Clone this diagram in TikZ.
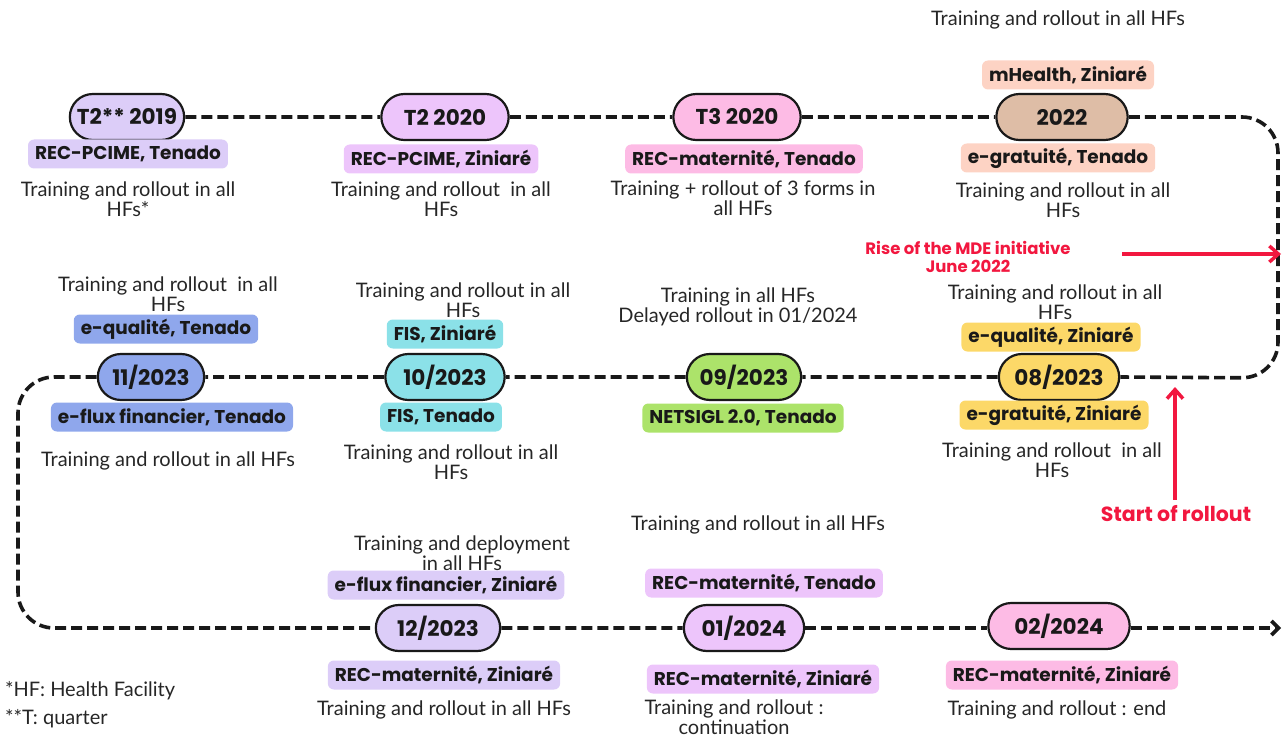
\documentclass[tikz,border=0pt]{standalone}
\usepackage{fontspec}
\setmainfont{Lato}
\newfontfamily\labelfont{Poppins}
\usetikzlibrary{arrows.meta,shapes.misc}

\definecolor{lavender}{HTML}{DCCDF8}
\definecolor{orchid}{HTML}{EDC5FB}
\definecolor{pinky}{HTML}{FDBBE5}
\definecolor{tan}{HTML}{DEBDA6}
\definecolor{peach}{HTML}{FDD3C4}
\definecolor{bluey}{HTML}{8FA7EC}
\definecolor{cyany}{HTML}{8BE1E8}
\definecolor{greeny}{HTML}{ACE36A}
\definecolor{yellowy}{HTML}{FCD868}
\definecolor{redy}{HTML}{F2173F}

\tikzset{
  datebox/.style={rounded rectangle, draw=black!90, line width=2.2pt,
    minimum height=46pt, minimum width=128pt, text=black!90,
    font=\labelfont\bfseries\fontsize{21.5}{23}\selectfont},
  tagbox/.style={rounded corners=6pt, minimum height=29pt, inner xsep=7pt,
    text=black!90, font=\labelfont\bfseries\fontsize{18.5}{20}\selectfont},
  note/.style={align=center, text=black!85, inner sep=0pt,
    font=\fontsize{20}{20}\selectfont},
  timeline/.style={line width=3.6pt, black!90, dash pattern=on 11pt off 5pt,
    rounded corners=36pt},
  redarrow/.style={line width=3.5pt, redy, -{Straight Barb[length=9pt,width=16pt]}},
  redtext/.style={align=center, text=redy, inner sep=0pt,
    font=\labelfont\bfseries\fontsize{16.5}{18}\selectfont}
}

\begin{document}
\begin{tikzpicture}[x=1pt,y=-1pt]
  \useasboundingbox (0,0) rectangle (1284,738);

  % top row
  \node[datebox,fill=lavender,minimum width=121pt] (d19)  at (127,117) {T2** 2019};
  \node[datebox,fill=orchid,minimum width=134pt]   (d20a) at (445,117) {T2 2020};
  \node[datebox,fill=pinky,minimum width=134pt]    (d20b) at (737,117) {T3 2020};
  \node[datebox,fill=tan,minimum width=138pt]      (d22)  at (1062,117) {2022};

  \node[tagbox,fill=lavender] (t19)  at (128,154)  {REC-PCIME, Tenado};
  \node[tagbox,fill=orchid]   (t20a) at (441,159)  {REC-PCIME, Ziniaré};
  \node[tagbox,fill=pinky]    (t20b) at (744,159)  {REC-maternité, Tenado};
  \node[tagbox,fill=peach]    (t22a) at (1068,75)  {mHealth, Ziniaré};
  \node[tagbox,fill=peach]    (t22b) at (1058,158) {e-gratuité, Tenado};

  \node[note] (n19)  at (128,199)  {Training and rollout in all\\HFs*};
  \node[note] (n20a) at (441,199)  {Training and rollout\ \ in all\\HFs};
  \node[note] (n20b) at (743,198)  {Training + rollout of 3 forms in\\all HFs};
  \node[note] (n22a) at (1058,20)  {Training and rollout in all HFs};
  \node[note] (n22b) at (1063,200) {Training and rollout in all\\HFs};

  % middle row
  \node[datebox,fill=bluey,minimum width=113pt]  (d11) at (151,377) {11/2023};
  \node[datebox,fill=cyany,minimum width=126pt]  (d10) at (445,377) {10/2023};
  \node[datebox,fill=greeny,minimum width=121pt] (d09) at (744,377) {09/2023};
  \node[datebox,fill=yellowy,minimum width=127pt](d08) at (1059,377) {08/2023};

  \node[tagbox,fill=bluey]   (t11a) at (166,329)  {e-qualité, Tenado};
  \node[tagbox,fill=bluey]   (t11b) at (172,417)  {e-flux financier, Tenado};
  \node[tagbox,fill=cyany]   (t10a) at (445,334)  {FIS, Ziniaré};
  \node[tagbox,fill=cyany]   (t10b) at (441,417)  {FIS, Tenado};
  \node[tagbox,fill=greeny]  (t09)  at (743,418)  {NETSIGL 2.0, Tenado};
  \node[tagbox,fill=yellowy] (t08a) at (1051,337) {e-qualité, Ziniaré};
  \node[tagbox,fill=yellowy] (t08b) at (1054,415) {e-gratuité, Ziniaré};

  \node[note] (n11a) at (168,294)  {Training and rollout\ \ in all\\HFs};
  \node[note] (n11b) at (168,461)  {Training and rollout in all HFs};
  \node[note] (n10a) at (463,300)  {Training and rollout in all\\HFs};
  \node[note] (n10b) at (451,462)  {Training and rollout in all\\HFs};
  \node[note] (n09)  at (738,307)  {Training in all HFs\\Delayed rollout in 01/2024};
  \node[note] (n08a) at (1055,302) {Training and rollout in all\\HFs};
  \node[note] (n08b) at (1052,460) {Training and rollout\ \ in all\\HFs};

  % bottom row
  \node[datebox,fill=lavender,minimum width=131pt] (d12)  at (438,628) {12/2023};
  \node[datebox,fill=orchid,minimum width=127pt]   (d01)  at (744,628) {01/2024};
  \node[datebox,fill=pinky,minimum width=148pt]    (d02)  at (1059,626) {02/2024};

  \node[tagbox,fill=lavender] (t12a) at (446,585)  {e-flux financier, Ziniaré};
  \node[tagbox,fill=lavender] (t12b) at (444,675)  {REC-maternité, Ziniaré};
  \node[tagbox,fill=orchid]   (t01a) at (764,583)  {REC-maternité, Tenado};
  \node[tagbox,fill=orchid]   (t01b) at (763,679)  {REC-maternité, Ziniaré};
  \node[tagbox,fill=pinky]    (t02)  at (1062,675) {REC-maternité, Ziniaré};

  \node[note] (n12a) at (462,553)  {Training and deployment\\in all HFs};
  \node[note] (n12b) at (444,710)  {Training and rollout in all HFs};
  \node[note] (n01a) at (758,525)  {Training and rollout in all HFs};
  \node[note] (n01b) at (734,717)  {Training and rollout :\\continuation};
  \node[note] (n02)  at (1057,710) {Training and rollout : end};

  \node[note,anchor=west] (fn1) at (5,691) {*HF: Health Facility};
  \node[note,anchor=west] (fn2) at (5,719) {**T: quarter};

  % the dashed timeline
  \coordinate (rtop) at (1278,117);
  \coordinate (rbot) at (1278,378);
  \coordinate (ltop) at (18,377);
  \coordinate (lbot) at (18,628);
  \coordinate (tend) at (1281,628);
  \draw[timeline] (d19) -- (d20a);
  \draw[timeline] (d20a) -- (d20b);
  \draw[timeline] (d20b) -- (d22);
  \draw[timeline] (d22.east) -- (rtop) -- (rbot) -- (d08.east);
  \draw[timeline] (d08) -- (d09);
  \draw[timeline] (d09) -- (d10);
  \draw[timeline] (d10) -- (d11);
  \draw[timeline] (d11.west) -- (ltop) -- (lbot) -- (d12.west);
  \draw[timeline] (d12) -- (d01);
  \draw[timeline] (d01.east) -- (d02.west |- d01.east);
  \draw[timeline,-{Straight Barb[length=7pt,width=14pt]}] (d02.east |- tend) -- (tend);

  % red markers
  \node[redtext] (mde) at (968,257) {Rise of the MDE initiative\\June 2022};
  \coordinate (mdefrom) at (1122,254);
  \coordinate (mdeto) at (1281,254);
  \draw[redarrow] (mdefrom) -- (mdeto);

  \node[redtext,font=\labelfont\bfseries\fontsize{20.5}{22}\selectfont] (roll) at (1176,514) {Start of rollout};
  \coordinate (rollto) at (1175,387);
  \draw[redarrow] ([yshift=6pt]roll.north -| rollto) -- (rollto);
\end{tikzpicture}
\end{document}
